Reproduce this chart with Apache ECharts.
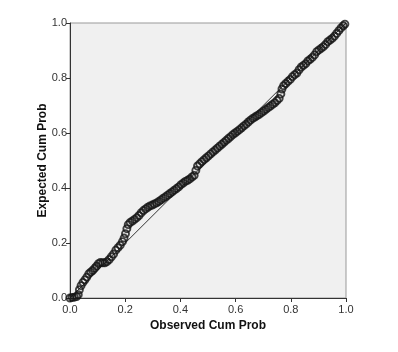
<!DOCTYPE html>
<html>
<head>
<meta charset="utf-8">
<script src="https://cdn.jsdelivr.net/npm/echarts@6/dist/echarts.min.js"></script>
<style>
  html, body { margin: 0; padding: 0; background: #fff; }
  #chart { width: 398px; height: 352px; }
</style>
</head>
<body>
<div id="chart"></div>
<script>
// observed vs expected cumulative probability
const observed = [
  0.000, 0.008, 0.016, 0.024, 0.030, 0.034, 0.040, 0.047, 0.054, 0.061,
  0.068, 0.075, 0.082, 0.089, 0.096, 0.103, 0.110, 0.118, 0.126, 0.134,
  0.142, 0.150, 0.158, 0.166, 0.174, 0.182, 0.190, 0.196, 0.201, 0.206,
  0.211, 0.218, 0.226, 0.234, 0.242, 0.250, 0.258, 0.266, 0.274, 0.282,
  0.290, 0.298, 0.306, 0.314, 0.322, 0.330, 0.338, 0.346, 0.354, 0.362,
  0.370, 0.378, 0.386, 0.394, 0.402, 0.410, 0.418, 0.426, 0.434, 0.442,
  0.450, 0.456, 0.462, 0.470, 0.478, 0.486, 0.494, 0.502, 0.510, 0.518,
  0.526, 0.534, 0.542, 0.550, 0.558, 0.566, 0.574, 0.582, 0.590, 0.598,
  0.606, 0.614, 0.622, 0.630, 0.638, 0.646, 0.654, 0.662, 0.670, 0.678,
  0.686, 0.694, 0.702, 0.710, 0.718, 0.726, 0.734, 0.742, 0.750, 0.758,
  0.764, 0.768, 0.774, 0.782, 0.790, 0.798, 0.806, 0.814, 0.822, 0.830,
  0.838, 0.846, 0.854, 0.862, 0.870, 0.878, 0.886, 0.894, 0.902, 0.910,
  0.918, 0.926, 0.934, 0.942, 0.950, 0.958, 0.966, 0.974, 0.982, 0.990,
  0.996
];
const expected = [
  0.000, 0.002, 0.003, 0.005, 0.012, 0.030, 0.045, 0.057, 0.066, 0.076,
  0.088, 0.094, 0.100, 0.108, 0.116, 0.125, 0.129, 0.128, 0.128, 0.132,
  0.140, 0.150, 0.160, 0.174, 0.183, 0.192, 0.205, 0.218, 0.234, 0.252,
  0.267, 0.275, 0.280, 0.286, 0.292, 0.300, 0.310, 0.318, 0.324, 0.330,
  0.335, 0.338, 0.342, 0.346, 0.351, 0.357, 0.363, 0.368, 0.374, 0.380,
  0.386, 0.392, 0.398, 0.404, 0.412, 0.418, 0.424, 0.428, 0.433, 0.440,
  0.446, 0.464, 0.480, 0.488, 0.496, 0.503, 0.510, 0.517, 0.524, 0.531,
  0.538, 0.545, 0.552, 0.559, 0.566, 0.573, 0.580, 0.587, 0.594, 0.600,
  0.606, 0.612, 0.619, 0.626, 0.632, 0.640, 0.647, 0.653, 0.658, 0.663,
  0.668, 0.674, 0.680, 0.686, 0.692, 0.698, 0.704, 0.710, 0.718, 0.726,
  0.742, 0.760, 0.772, 0.780, 0.788, 0.795, 0.805, 0.812, 0.818, 0.830,
  0.840, 0.846, 0.852, 0.862, 0.868, 0.875, 0.884, 0.896, 0.902, 0.908,
  0.914, 0.922, 0.932, 0.938, 0.944, 0.952, 0.962, 0.972, 0.982, 0.990,
  0.996
];
const refLine = [[0, 0], [1, 1]];
const xTitle = 'Observed Cum Prob';
const yTitle = 'Expected Cum Prob';

const font = '"Liberation Sans", Arial, sans-serif';
const points = observed.map((v, i) => [v, expected[i]]);

function axis(name, gap, rotate, margin) {
  return {
    type: 'value',
    min: 0,
    max: 1,
    interval: 0.2,
    name: name,
    nameLocation: 'middle',
    nameGap: gap,
    nameRotate: rotate,
    nameMoveOverlap: false,
    nameTextStyle: { fontFamily: font, fontSize: 12, fontWeight: 'bold', color: '#111' },
    axisLine: { show: true, lineStyle: { color: '#333', width: 1 } },
    axisTick: { show: true, inside: false, length: 4, lineStyle: { color: '#333' } },
    axisLabel: {
      fontFamily: font, fontSize: 11, color: '#333', margin: margin,
      formatter: v => v.toFixed(1)
    },
    splitLine: { show: false }
  };
}

const chart = echarts.init(document.getElementById('chart'));
chart.setOption({
  animation: false,
  backgroundColor: '#fff',
  grid: {
    left: 70, right: 52, top: 23, bottom: 54,
    show: true, backgroundColor: '#f0f0f0', borderColor: '#999', borderWidth: 1
  },
  xAxis: axis(xTitle, 22, 0, 6),
  yAxis: axis(yTitle, 21, 90, 3),
  series: [
    {
      type: 'line',
      data: refLine,
      symbol: 'none',
      lineStyle: { color: '#333', width: 1 },
      z: 1
    },
    {
      type: 'scatter',
      data: points,
      symbol: 'circle',
      symbolSize: 7,
      itemStyle: { color: 'rgba(0,0,0,0)', borderColor: '#151515', borderWidth: 1.9 },
      z: 2
    }
  ]
});
</script>
</body>
</html>
